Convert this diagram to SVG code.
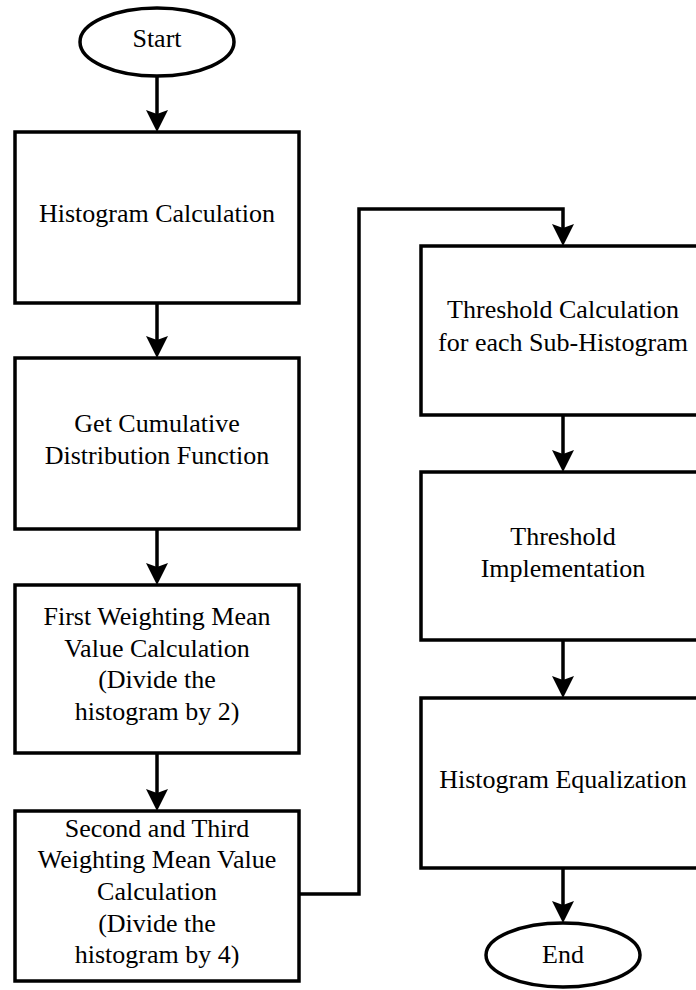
<svg xmlns="http://www.w3.org/2000/svg" width="696" height="990" viewBox="0 0 696 990">
<style>
.box{fill:#fff;stroke:#000;stroke-width:3.5}
.term{fill:#fff;stroke:#000;stroke-width:3.5}
.lbl{font-family:"Liberation Serif","Times New Roman",serif;font-size:26px;fill:#000;text-anchor:middle}
.conn{fill:none;stroke:#000;stroke-width:3.5}
</style>
<defs>
<marker id="arr" viewBox="0 0 22 22" refX="10" refY="11" markerWidth="22" markerHeight="22" markerUnits="userSpaceOnUse" orient="auto">
<path d="M0,0 L22,11 L0,22 L4,11 Z" fill="#000"/>
</marker>
</defs>
<rect width="696" height="990" fill="#fff"/>
<g id="connectors">
<path class="conn" d="M157,76 V120" marker-end="url(#arr)"/>
<path class="conn" d="M157,303 V346" marker-end="url(#arr)"/>
<path class="conn" d="M157,529 V573" marker-end="url(#arr)"/>
<path class="conn" d="M157,753 V799" marker-end="url(#arr)"/>
<path class="conn" d="M299,894 H359 V209 H563 V234" marker-end="url(#arr)"/>
<path class="conn" d="M563,415 V460" marker-end="url(#arr)"/>
<path class="conn" d="M563,640 V686" marker-end="url(#arr)"/>
<path class="conn" d="M563,868 V911" marker-end="url(#arr)"/>
</g>
<g id="start">
<ellipse class="term" cx="157" cy="42" rx="77" ry="34"/>
<text class="lbl" x="157" y="47">Start</text>
</g>
<g id="histogram-calculation">
<rect class="box" x="15" y="132" width="284" height="171"/>
<text class="lbl" x="157" y="222">Histogram Calculation</text>
</g>
<g id="cdf">
<rect class="box" x="15" y="358" width="284" height="171"/>
<text class="lbl" x="157" y="432">Get Cumulative</text>
<text class="lbl" x="157" y="464">Distribution Function</text>
</g>
<g id="first-weighting">
<rect class="box" x="15" y="585" width="284" height="168"/>
<text class="lbl" x="157" y="625">First Weighting Mean</text>
<text class="lbl" x="157" y="657">Value Calculation</text>
<text class="lbl" x="157" y="688">(Divide the</text>
<text class="lbl" x="157" y="720">histogram by 2)</text>
</g>
<g id="second-third-weighting">
<rect class="box" x="15" y="811" width="284" height="170"/>
<text class="lbl" x="157" y="837">Second and Third</text>
<text class="lbl" x="157" y="868">Weighting Mean Value</text>
<text class="lbl" x="157" y="900">Calculation</text>
<text class="lbl" x="157" y="932">(Divide the</text>
<text class="lbl" x="157" y="963">histogram by 4)</text>
</g>
<g id="threshold-calculation">
<rect class="box" x="421" y="246" width="284" height="169"/>
<text class="lbl" x="563" y="318">Threshold Calculation</text>
<text class="lbl" x="563" y="351">for each Sub-Histogram</text>
</g>
<g id="threshold-implementation">
<rect class="box" x="421" y="472" width="284" height="168"/>
<text class="lbl" x="563" y="545">Threshold</text>
<text class="lbl" x="563" y="577">Implementation</text>
</g>
<g id="histogram-equalization">
<rect class="box" x="421" y="698" width="284" height="170"/>
<text class="lbl" x="563" y="788">Histogram Equalization</text>
</g>
<g id="end">
<ellipse class="term" cx="563" cy="955" rx="77" ry="32"/>
<text class="lbl" x="563" y="963">End</text>
</g>
</svg>
